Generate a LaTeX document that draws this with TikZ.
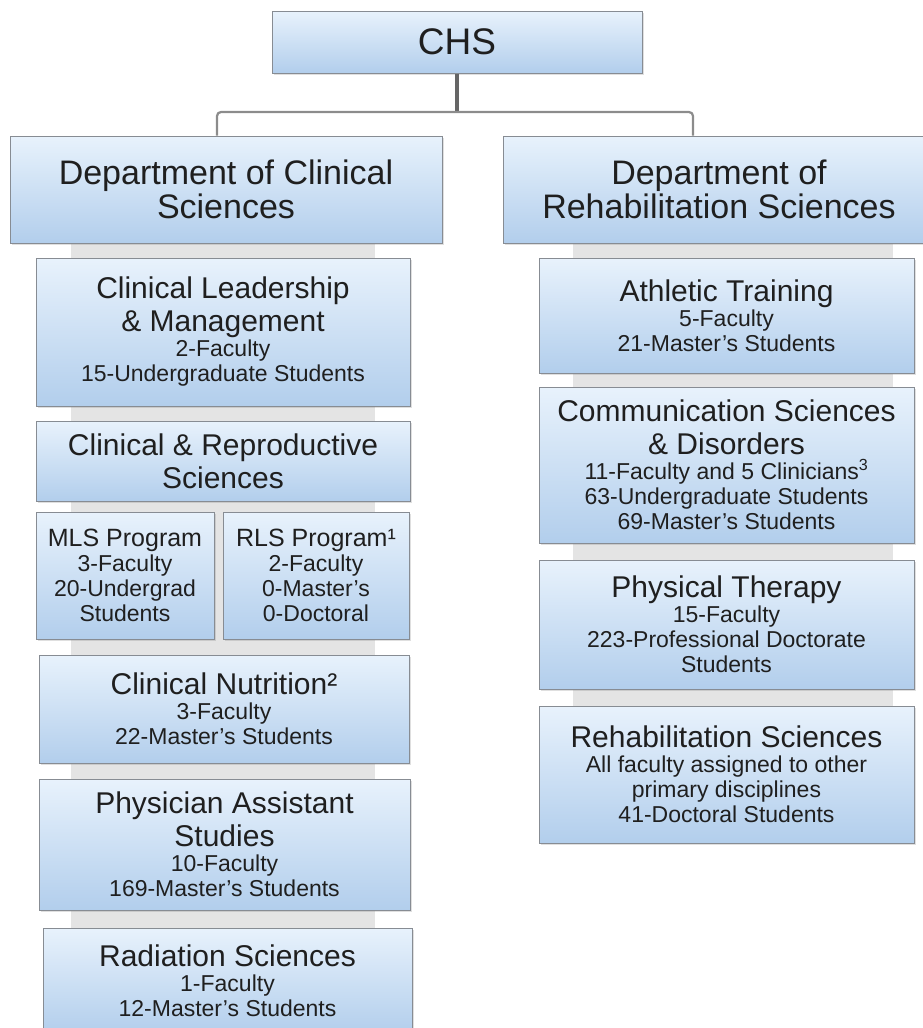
\documentclass[tikz,border=0pt]{standalone}
\usepackage{fontspec}
\setmainfont{Liberation Sans}
\usetikzlibrary{shadows}
\definecolor{boxtop}{HTML}{E8F2FC}
\definecolor{boxbot}{HTML}{B2CEEC}
\definecolor{boxline}{HTML}{878C93}
\definecolor{band}{HTML}{E4E4E4}
\newcommand\deptfont{\fontsize{34}{34}\selectfont}
\newcommand\ttlfont{\fontsize{30}{33}\selectfont}
\newcommand\mlsfont{\fontsize{25}{26}\selectfont}
\newcommand\infofont{\fontsize{23}{25}\selectfont}
\tikzset{
  orgbox/.style={draw=boxline, line width=1pt, top color=boxtop, bottom color=boxbot,
    drop shadow={shadow xshift=1.5pt, shadow yshift=-1.5pt, opacity=0.25},
    align=flush center, inner sep=0pt, text=black!88},
  dept/.style={orgbox, minimum width=432pt, minimum height=107pt, text width=420pt, font=\deptfont},
  unit/.style={orgbox, text width=#1pt},
}
\begin{document}
\begin{tikzpicture}[x=1pt,y=-1pt]
\useasboundingbox (0,0) rectangle (923,1028);
\clip (0,0) rectangle (923,1028);
\fill [band] (71,243) rectangle (375,1028);
\fill [band] (573,243) rectangle (893,843);
\node [orgbox, minimum width=370pt, minimum height=62pt, font=\fontsize{37}{37}\selectfont] (chs) at (457,42) {CHS};
\node [dept] (clin) at (226,189.5) {Department of Clinical\\ Sciences};
\node [dept] (rehab) at (719,189.5) {Department of\\ Rehabilitation Sciences};
\node [unit=366, minimum width=374pt, minimum height=148pt] (clm) at (223,332) {{\ttlfont Clinical Leadership\\ \& Management\par}{\infofont 2-Faculty\\ 15-Undergraduate Students\par}};
\node [unit=366, minimum width=374pt, minimum height=80pt] (crs) at (223,461) {{\ttlfont Clinical \& Reproductive\\ Sciences\par}};
\node [unit=174, minimum width=178pt, minimum height=127pt] (mls) at (125,575.5) {{\mlsfont MLS Program\par}{\infofont 3-Faculty\\ 20-Undergrad\\ Students\par}};
\node [unit=182, minimum width=186pt, minimum height=127pt] (rls) at (316,575.5) {{\mlsfont RLS Program¹\par}{\infofont 2-Faculty\\ 0-Master's\\ 0-Doctoral\par}};
\node [unit=362, minimum width=370pt, minimum height=108pt] (nut) at (224,709) {{\ttlfont Clinical Nutrition²\par}{\infofont 3-Faculty\\ 22-Master's Students\par}};
\node [unit=362, minimum width=371pt, minimum height=131pt] (pas) at (224.5,844.5) {{\ttlfont Physician Assistant\\ Studies\par}{\infofont 10-Faculty\\ 169-Master's Students\par}};
\node [unit=362, minimum width=369pt, minimum height=106pt] (rad) at (227.5,981) {{\ttlfont Radiation Sciences\par}{\infofont 1-Faculty\\ 12-Master's Students\par}};
\node [unit=367, minimum width=375pt, minimum height=115pt] (ath) at (726.5,315.5) {{\ttlfont Athletic Training\par}{\infofont 5-Faculty\\ 21-Master's Students\par}};
\node [unit=367, minimum width=375pt, minimum height=156pt] (com) at (726.5,465) {{\ttlfont Communication Sciences\\ \& Disorders\par}{\infofont 11-Faculty and 5 Clinicians\textsuperscript{3}\\ 63-Undergraduate Students\\ 69-Master's Students\par}};
\node [unit=367, minimum width=375pt, minimum height=129pt] (pt) at (726.5,624.5) {{\ttlfont Physical Therapy\par}{\infofont 15-Faculty\\ 223-Professional Doctorate\\ Students\par}};
\node [unit=367, minimum width=375pt, minimum height=137pt] (rhs) at (726.5,774.5) {{\ttlfont Rehabilitation Sciences\par}{\infofont All faculty assigned to other\\ primary disciplines\\ 41-Doctoral Students\par}};
\coordinate (split) at (457,112);
\draw [black!60, line width=3.5pt] (chs.south) -- (split);
\draw [black!45, line width=2.2pt, rounded corners=4pt] ([xshift=-9pt]clin.north) |- (split) -| ([xshift=-26pt]rehab.north);
\end{tikzpicture}
\end{document}
